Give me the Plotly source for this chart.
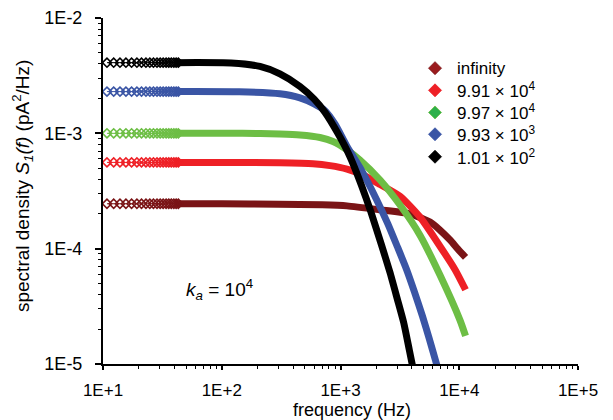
import plotly.graph_objects as go

# ---------------- data ----------------
# sparse low-frequency points drawn as a chain of open diamonds
LOW_FREQ = [10.8, 12.3, 13.9, 15.6, 17.4, 19.3, 21.1, 23.0, 24.8, 26.6, 28.5,
            30.3, 32.1, 34.0, 35.8, 37.6, 39.5, 41.3, 43.1]
LOW_LEVEL = [2.45e-4, 5.6e-4, 1.0e-3, 2.3e-3, 4.1e-3]   # plateau per series

INF_F = [40, 100, 300, 700, 1135, 2150, 3845, 5680, 6880, 8360, 9750, 11300]
INF_S = [2.45e-4, 2.45e-4, 2.43e-4, 2.40e-4, 2.35e-4, 2.17e-4, 2.0e-4, 1.70e-4,
         1.45e-4, 1.19e-4, 9.9e-5, 8.4e-5]

RED_F = [40, 100, 309, 586, 816, 1135, 1546, 2154, 3170, 4670, 6880, 9200, 11300]
RED_S = [5.6e-4, 5.6e-4, 5.55e-4, 5.45e-4, 5.25e-4, 4.9e-4, 4.35e-4, 3.6e-4,
         2.85e-4, 1.88e-4, 1.05e-4, 6.6e-5, 4.4e-5]

GRN_F = [40, 150, 309, 456, 672, 865, 1135, 1459, 2154, 3170, 4670, 6880, 10140,
         11300]
GRN_S = [1.0e-3, 1.0e-3, 9.86e-4, 9.67e-4, 9.2e-4, 8.5e-4, 7.2e-4, 5.86e-4,
         3.94e-4, 2.39e-4, 1.31e-4, 5.9e-5, 2.4e-5, 1.75e-5]

BLU_F = [40, 140, 309, 456, 600, 741, 900, 1135, 1500, 2000, 2500, 3000, 3600,
         4200, 4900, 5600, 6300, 7000]
BLU_S = [2.3e-3, 2.29e-3, 2.2e-3, 2.03e-3, 1.8e-3, 1.57e-3, 1.2e-3, 7.7e-4,
         4.8e-4, 2.7e-4, 1.65e-4, 1.05e-4, 6.6e-5, 4.2e-5, 2.6e-5, 1.65e-5,
         1.08e-5, 7.4e-6]

BLK_F = [40, 120, 210, 309, 456, 600, 741, 950, 1200, 1500, 1800, 2200, 2600,
         3000, 3400, 3800, 4200]
BLK_S = [4.1e-3, 4.07e-3, 3.80e-3, 3.28e-3, 2.55e-3, 1.98e-3, 1.52e-3, 1.0e-3,
         6.3e-4, 3.55e-4, 2.09e-4, 1.10e-4, 6.3e-5, 3.7e-5, 2.3e-5, 1.32e-5,
         7.9e-6]

NAMES = ["infinity", "9.91 × 10<sup>4</sup>", "9.97 × 10<sup>4</sup>",
         "9.93 × 10<sup>3</sup>", "1.01 × 10<sup>2</sup>"]
LINE_COLORS = ["#7A1416", "#EE2026", "#6DBE45", "#3A55A5", "#000000"]
LEGEND_COLORS = ["#9B1B1E", "#EE2026", "#2EB04B", "#3A55A5", "#000000"]
SERIES_F = [INF_F, RED_F, GRN_F, BLU_F, BLK_F]
SERIES_S = [INF_S, RED_S, GRN_S, BLU_S, BLK_S]

X_TICKS = [1e1, 1e2, 1e3, 1e4, 1e5]
X_TEXT = ["1E+1", "1E+2", "1E+3", "1E+4", "1E+5"]
Y_TICKS = [1e-5, 1e-4, 1e-3, 1e-2]
Y_TEXT = ["1E-5", "1E-4", "1E-3", "1E-2"]

FONT = "Arial, Liberation Sans, sans-serif"

# legend layout (paper fractions of the plot area)
LEG_MARK_X = 0.699
LEG_TEXT_X = 0.741
LEG_ROWS_Y = [0.855, 0.791, 0.727, 0.664, 0.599]

fig = go.Figure()
for i in range(5):
    fig.add_trace(go.Scatter(
        x=SERIES_F[i], y=SERIES_S[i], mode="lines",
        line=dict(color=LINE_COLORS[i], width=7, shape="spline", smoothing=0.6),
        showlegend=False, hoverinfo="skip"))
    fig.add_trace(go.Scatter(
        x=LOW_FREQ, y=[LOW_LEVEL[i]] * len(LOW_FREQ), mode="lines+markers",
        line=dict(color=LINE_COLORS[i], width=1),
        marker=dict(symbol="diamond-open", size=7, color=LINE_COLORS[i],
                    line=dict(width=1.6, color=LINE_COLORS[i])),
        showlegend=False, hoverinfo="skip"))

shapes = []
annotations = []
for i in range(5):
    shapes.append(dict(
        type="path", xref="paper", yref="paper",
        xsizemode="pixel", ysizemode="pixel",
        xanchor=LEG_MARK_X, yanchor=LEG_ROWS_Y[i],
        path="M 0 6.5 L 6.5 0 L 0 -6.5 L -6.5 0 Z",
        fillcolor=LEGEND_COLORS[i], line=dict(width=0.8, color=LINE_COLORS[i])))
    annotations.append(dict(
        text=NAMES[i], xref="paper", yref="paper",
        x=LEG_TEXT_X, y=LEG_ROWS_Y[i], xanchor="left", yanchor="middle",
        showarrow=False, font=dict(size=17)))

annotations += [
    dict(text="<i>k</i><sub><i>a</i></sub> = 10<sup>4</sup>",
         xref="paper", yref="paper", x=0.245, y=0.214,
         xanchor="center", yanchor="middle",
         showarrow=False, font=dict(size=19)),
    dict(text="spectral density <i>S</i><sub><i>1</i></sub><i>(f)</i> (pA<sup>2</sup>/Hz)",
         xref="paper", yref="paper", x=-0.168, y=0.515, textangle=-90,
         xanchor="center", yanchor="middle",
         showarrow=False, font=dict(size=19)),
    dict(text="frequency (Hz)", xref="paper", yref="paper",
         x=0.524, y=-0.133, xanchor="center", yanchor="middle",
         showarrow=False, font=dict(size=18)),
]

fig.update_layout(
    width=613, height=420,
    # the page body adds an 8 px offset; margins compensate for it
    margin=dict(l=95, r=43, t=10, b=64),
    paper_bgcolor="white", plot_bgcolor="white",
    font=dict(family=FONT, size=17, color="black"),
    showlegend=False,
    shapes=shapes,
    annotations=annotations,
)

fig.update_xaxes(
    type="log", range=[1, 5], tickmode="array", tickvals=X_TICKS, ticktext=X_TEXT,
    automargin=False,
    showgrid=False, zeroline=False, showline=True, linecolor="black", linewidth=2,
    ticks="outside", ticklen=4, tickwidth=1.5, tickcolor="black",
    minor=dict(ticks="outside", ticklen=3, tickwidth=1.2, tickcolor="black",
               dtick="D1", showgrid=False),
    tickfont=dict(size=17), ticklabelstandoff=6,
)
fig.update_yaxes(
    type="log", range=[-5, -2], tickmode="array", tickvals=Y_TICKS, ticktext=Y_TEXT,
    automargin=False,
    showgrid=False, zeroline=False, showline=True, linecolor="black", linewidth=2,
    ticks="outside", ticklen=6, tickwidth=1.5, tickcolor="black",
    minor=dict(ticks="outside", ticklen=3, tickwidth=1.2, tickcolor="black",
               dtick="D1", showgrid=False),
    tickfont=dict(size=18), ticklabelstandoff=9,
)

fig.write_html("out.html")
